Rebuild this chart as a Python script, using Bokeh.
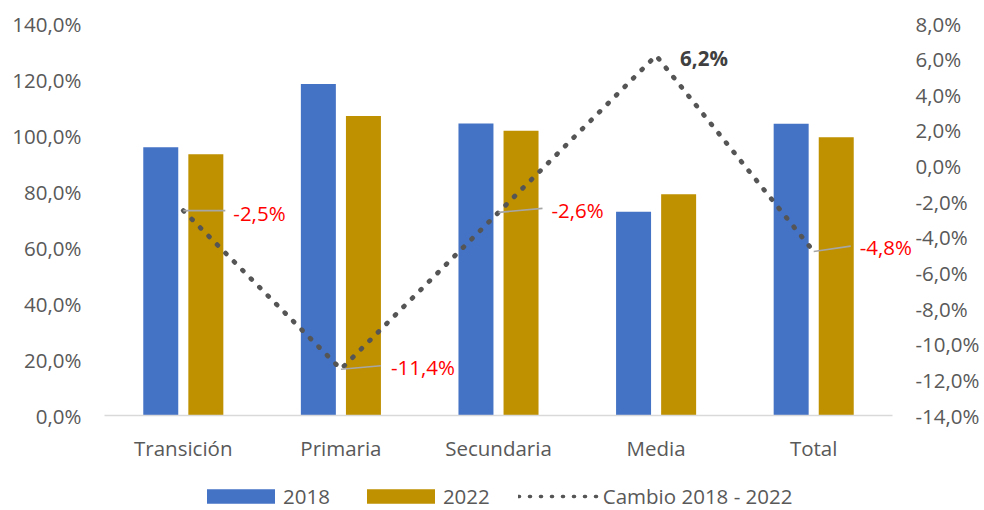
import numpy as np
from bokeh.plotting import figure
from bokeh.layouts import column
from bokeh.models import (Range1d, LinearAxis, FixedTicker, Legend, LegendItem,
                          Label, ColumnDataSource)
from bokeh.embed import file_html
from bokeh.resources import INLINE

# ---------------- data ----------------
categories = ["Transición", "Primaria", "Secundaria", "Media", "Total"]
v2018 = [95.8, 118.4, 104.3, 72.8, 104.2]
v2022 = [93.3, 107.0, 101.7, 79.0, 99.4]
change = [-2.5, -11.4, -2.6, 6.2, -4.8]
change_labels = ["-2,5%", "-11,4%", "-2,6%", "6,2%", "-4,8%"]
series_names = ["2018", "2022", "Cambio 2018 - 2022"]
left_ticks = [0, 20, 40, 60, 80, 100, 120, 140]
right_ticks = [-14, -12, -10, -8, -6, -4, -2, 0, 2, 4, 6, 8]

# ---------------- styles ----------------
FONT = "Open Sans"
FS = "20.5px"
GRAY = "#595959"
BLUE = "#4472C4"
GOLD = "#BF9000"
DOT = "#555555"
W = 984
BL, BR = 104, 70

def pct(v):
    return f"{v:.1f}".replace(".", ",") + "%"

n = len(categories)
xs = np.arange(n) + 0.5

# frame: 810 px wide, categories occupy the first 788 px
p = figure(width=W, height=464, output_backend="svg", toolbar_location=None,
           x_range=Range1d(0, n * 810 / 788), y_range=Range1d(0, 140),
           min_border_left=BL, min_border_right=BR, min_border_top=23,
           min_border_bottom=47)
p.outline_line_color = None
p.xgrid.visible = False
p.ygrid.visible = False
p.extra_y_ranges = {"right": Range1d(-14, 8)}

BW = 0.222
OFF = 0.143
src = ColumnDataSource(dict(x18=xs - OFF, x22=xs + OFF, v18=v2018, v22=v2022,
                            xc=xs, ch=change))
r18 = p.vbar(x="x18", top="v18", width=BW, bottom=0, source=src,
             fill_color=BLUE, line_color=None)
r22 = p.vbar(x="x22", top="v22", width=BW, bottom=0, source=src,
             fill_color=GOLD, line_color=None)

rline = p.line(x="xc", y="ch", source=src, y_range_name="right",
               line_color=DOT, line_width=4.8, line_dash="1 11",
               line_cap="round")

# leader lines (offsets in px converted to data units)
px_x = n / 788.0
px_y = 22.0 / 393.5
lead_dx = [42, 40, 44, 0, 37]
lead_dy = [0, 3.4, 4, 0, 5.5]
for i in range(n):
    if lead_dx[i] == 0:
        continue
    p.line([xs[i], xs[i] + lead_dx[i] * px_x],
           [change[i], change[i] + lead_dy[i] * px_y],
           y_range_name="right", line_color="#A6A6A6", line_width=1.6)

# data labels
lab_dx = [50, 50, 53, 24, 46]
lab_dy = [-2.5, 2.5, 2, -2.6, 5]
for i in range(n):
    bold = change[i] > 0
    p.add_layout(Label(x=xs[i], y=change[i], y_range_name="right",
                       x_offset=lab_dx[i], y_offset=lab_dy[i],
                       text=change_labels[i], text_font=FONT,
                       text_font_size="20.5px",
                       text_font_style="bold" if bold else "normal",
                       text_color="#404040" if bold else "#FF0000",
                       text_baseline="middle", text_align="left"))

def style_axis(ax, standoff):
    ax.axis_line_color = None
    ax.major_tick_line_color = None
    ax.minor_tick_line_color = None
    ax.major_tick_out = 0
    ax.major_tick_in = 0
    ax.minor_tick_out = 0
    ax.minor_tick_in = 0
    ax.axis_label_standoff = 0
    ax.major_label_text_font = FONT
    ax.major_label_text_font_size = FS
    ax.major_label_text_color = GRAY
    ax.major_label_standoff = standoff

xa = p.xaxis[0]
style_axis(xa, 18)
xa.ticker = FixedTicker(ticks=list(xs))
xa.major_label_overrides = {float(x): c for x, c in zip(xs, categories)}
xa.axis_line_color = "#D9D9D9"
xa.axis_line_width = 1.5
xa.bounds = (0, n)

ya = p.yaxis[0]
style_axis(ya, 23)
ya.ticker = FixedTicker(ticks=left_ticks)
ya.major_label_overrides = {t: pct(t) for t in left_ticks}

ra = LinearAxis(y_range_name="right", ticker=FixedTicker(ticks=right_ticks))
style_axis(ra, 1)
ra.major_label_overrides = {t: pct(t) for t in right_ticks}
p.add_layout(ra, "right")

# ---------------- legend strip ----------------
lg = figure(width=W, height=46, output_backend="svg", toolbar_location=None,
            x_range=Range1d(0, 1), y_range=Range1d(0, 1),
            x_axis_type=None, y_axis_type=None,
            min_border_left=BL, min_border_right=BR, min_border_top=0,
            min_border_bottom=0)
lg.grid.visible = False
lg.outline_line_color = None
# zero-size proxies that only carry the legend styling
l18 = lg.vbar(x=[0.5], top=[0], bottom=0, width=0.1, fill_color=BLUE,
              line_color=None)
l22 = lg.vbar(x=[0.5], top=[0], bottom=0, width=0.1, fill_color=GOLD,
              line_color=None)
lln = lg.line(x=[0.5], y=[0.5], line_color=DOT, line_width=3.6,
              line_dash="1 10", line_cap="round", line_dash_offset=0)
legend = Legend(items=[LegendItem(label=series_names[0], renderers=[l18]),
                       LegendItem(label=series_names[1], renderers=[l22]),
                       LegendItem(label=series_names[2], renderers=[lln])],
                orientation="horizontal", location=(198 - BL, 0),
                glyph_width=85, glyph_height=18, label_standoff=0, spacing=28,
                padding=0, margin=0, border_line_color=None,
                background_fill_alpha=0,
                label_text_font=FONT, label_text_font_size=FS,
                label_text_color=GRAY)
lg.add_layout(legend, "center")

open("out.html", "w").write(file_html(column(p, lg, spacing=0), INLINE))
